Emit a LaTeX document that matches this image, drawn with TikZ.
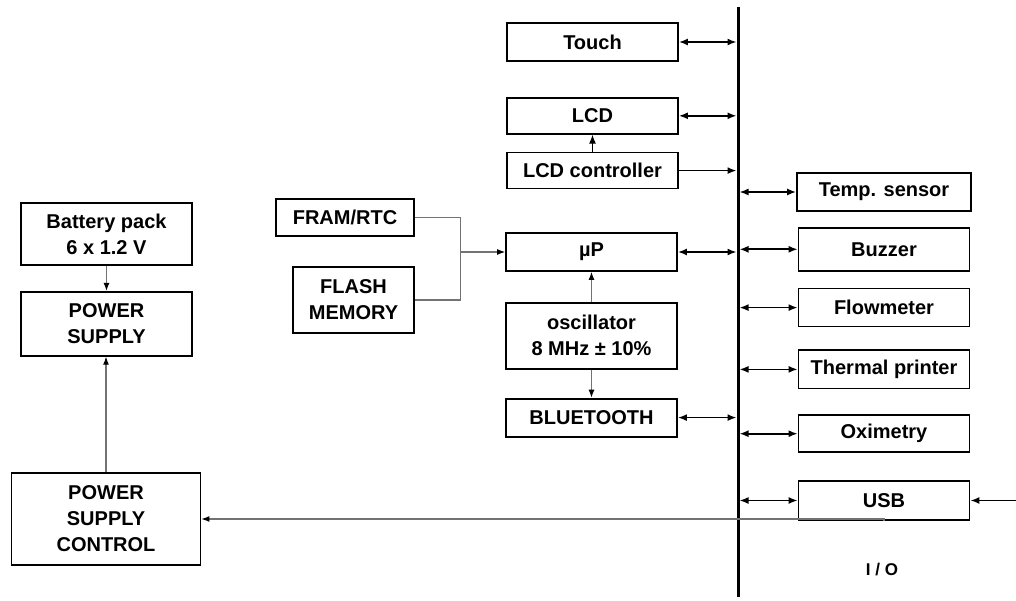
\documentclass[tikz,border=0pt]{standalone}
\usepackage{fontspec}
\setmainfont{Liberation Sans}
\usetikzlibrary{arrows.meta,positioning}
\tikzstyle{block} = [rectangle, draw, line width=1.8pt, inner sep=0pt,
    minimum width=171pt, minimum height=38pt, align=center,
    font=\fontsize{20}{26}\selectfont\bfseries]
\tikzstyle{line} = [draw, line width=1.6pt, -{Latex[length=9pt,width=7pt]}]
\tikzstyle{bidir} = [draw, line width=1.6pt, {Latex[length=9pt,width=7pt]}-{Latex[length=9pt,width=7pt]}]
\tikzstyle{feed} = [draw, black!55, line width=1.1pt, -{Latex[length=8pt,width=6pt,black]}]

\begin{document}
\begin{tikzpicture}[x=1pt,y=1pt]
		\useasboundingbox (0,0) rectangle (1016,600);
		% Draw nodes
		\node [block] (touch) at (592.5,558) {Touch};
		\node [block, minimum height=36pt, below=35pt of touch] (lcd) {LCD};
		\node [block, minimum height=36pt, below=17pt of lcd] (lcdctrl) {LCD controller};
		\node [block] (up) at (591.5,348) {µP};
		\node [block, minimum height=66pt, below=30pt of up] (osc) {oscillator\\8 MHz ± 10\%};
		\node [block, below=28pt of osc] (bt) {BLUETOOTH};
		\node [block, minimum width=138pt, minimum height=37pt] (fram) at (345,382.5) {FRAM/RTC};
		\node [block, minimum width=121pt, minimum height=66pt] (flash) at (353.5,300) {FLASH\\MEMORY};
		\node [block, minimum height=62pt] (battery) at (106.5,366) {Battery pack\\6 x 1.2 V};
		\node [block, minimum height=64pt, below=25pt of battery] (psupply) {POWER\\SUPPLY};
		\node [block, minimum width=189pt, minimum height=92pt] (psc) at (106,81) {POWER\\SUPPLY\\CONTROL};
		% I/O column
		\node [block, minimum width=174pt] (temp) at (884,408) {Temp. sensor};
		\node [block, minimum height=43pt, below=15pt of temp] (buzzer) {Buzzer};
		\node [block, below=16pt of buzzer] (flow) {Flowmeter};
		\node [block, below=22pt of flow] (thermal) {Thermal printer};
		\node [block, minimum height=37pt, below=25pt of thermal] (oxi) {Oximetry};
		\node [block, minimum height=39pt, below=27pt of oxi] (usb) {USB};
		\node [font=\fontsize{17}{20}\selectfont\bfseries] (io) at (882,30) {I / O};
		% Helper coordinates
		\coordinate (bustop) at (738,593);
		\coordinate (busbot) at (738,3);
		\coordinate [right=48pt of usb.east] (usbin);
		\coordinate [left=45pt of up.west] (join);
		% Bus
		\draw [line width=3pt] (bustop) -- (busbot);
		% Draw lines connecting (arrows)
		\path [bidir, shorten >=1.5pt] (touch) -- (touch -| bustop);
		\path [bidir, shorten >=1.5pt] (lcd) -- (lcd -| bustop);
		\path [line, shorten >=1.5pt] (lcdctrl) -- (lcdctrl -| bustop);
		\path [bidir, shorten >=1.5pt] (up) -- (up -| bustop);
		\path [bidir, shorten >=1.5pt] (bt) -- (bt -| bustop);
		\path [bidir, shorten <=1.5pt] (temp -| bustop) -- (temp);
		\path [bidir, shorten <=1.5pt] (buzzer -| bustop) -- (buzzer);
		\path [bidir, shorten <=1.5pt] (flow -| bustop) -- (flow);
		\path [bidir, shorten <=1.5pt] (thermal -| bustop) -- (thermal);
		\path [bidir, shorten <=1.5pt] (oxi -| bustop) -- (oxi);
		\path [bidir, shorten <=1.5pt] (usb -| bustop) -- (usb);
		\path [line] (usbin) -- (usb);
		\path [line, line width=1.1pt] (lcdctrl) -- (lcd);
		\draw [black!55, line width=1.1pt] (fram.east) -| (join) |- (flash.east);
		\path [feed] (join) -- (up.west);
		\path [feed] (osc) -- (up);
		\path [feed] (osc) -- (bt);
		\path [feed] (battery) -- (psupply);
		\path [feed] (psc) -- (psc |- psupply.south);
		\path [feed] (usb.south) |- (psc.east);
	\end{tikzpicture}
\end{document}
